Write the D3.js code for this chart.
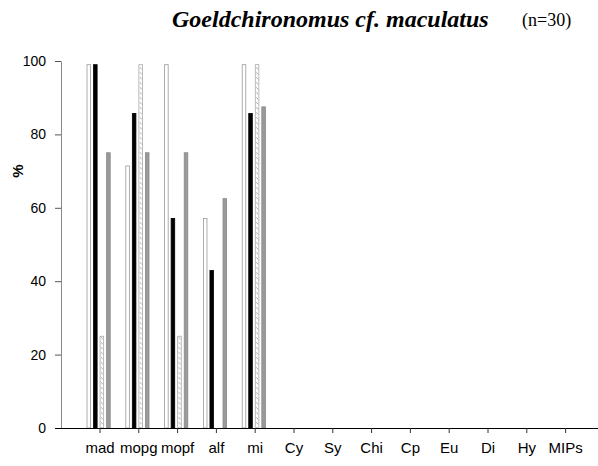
<!DOCTYPE html>
<html>
<head>
<meta charset="utf-8">
<script src="https://cdn.jsdelivr.net/npm/d3@7"></script>
<style>
  body { margin: 0; background: #fff; }
  svg { display: block; }
</style>
</head>
<body>
<div id="chart"></div>
<script>
// data
const categories = ['mad', 'mopg', 'mopf', 'alf', 'mi', 'Cy', 'Sy', 'Chi', 'Cp', 'Eu', 'Di', 'Hy', 'MIPs'];
const series = ['s1', 's2', 's3', 's4'];
const s1 = [99, 71.4, 99, 57.1, 99, 0, 0, 0, 0, 0, 0, 0, 0];
const s2 = [99, 85.7, 57.1, 42.9, 85.7, 0, 0, 0, 0, 0, 0, 0, 0];
const s3 = [25, 99, 25, 0, 99, 0, 0, 0, 0, 0, 0, 0, 0];
const s4 = [75, 75, 75, 62.5, 87.5, 0, 0, 0, 0, 0, 0, 0, 0];
const yTicks = [0, 20, 40, 60, 80, 100];

const width = 598;
const height = 466;

const svg = d3.select('#chart').append('svg')
  .attr('width', width)
  .attr('height', height);

const x = d3.scaleBand().domain(categories).range([80.6, 585]).padding(0);
const xs = d3.scaleBand().domain(series).range([-13, 11]).paddingInner(0.33);
const y = d3.scaleLinear().domain([0, 100]).range([428, 61]);

// hatch pattern for the third series, one dash per row
const bw = xs.bandwidth() - 0.8;
const defs = svg.append('defs');
const pat = defs.append('pattern')
  .attr('id', 'hatch')
  .attr('patternUnits', 'userSpaceOnUse')
  .attr('x', xs('s3'))
  .attr('y', 61)
  .attr('width', bw)
  .attr('height', 5);
pat.append('rect').attr('width', bw).attr('height', 5).attr('fill', '#fff');
pat.append('line')
  .attr('x1', 0.8).attr('y1', 1.2).attr('x2', bw - 0.6).attr('y2', 3.4)
  .attr('stroke', '#888').attr('stroke-width', 0.7);

const rows = categories.map((c, i) => ({ cat: c, vals: [s1[i], s2[i], s3[i], s4[i]] }));
const fills = ['#fff', '#000', 'url(#hatch)', '#9a9a9a'];
const strokes = ['#999', '#000', '#aaa', '#888'];

// bars
const g = svg.selectAll('.grp')
  .data(rows)
  .enter().append('g')
  .attr('class', 'grp')
  .attr('transform', d => `translate(${x(d.cat) + x.bandwidth() / 2},0)`);

g.selectAll('rect')
  .data(d => d.vals.map((v, j) => ({ v, s: series[j], j })).filter(e => e.v > 0))
  .enter().append('rect')
  .attr('x', e => xs(e.s))
  .attr('width', bw)
  .attr('y', e => y(e.v))
  .attr('height', e => y(0) - y(e.v))
  .attr('fill', e => fills[e.j])
  .attr('stroke', e => strokes[e.j])
  .attr('stroke-width', 0.8);

// y axis
const yAxis = svg.append('g')
  .attr('transform', 'translate(61,0)')
  .call(d3.axisLeft(y).tickValues(yTicks).tickSize(6).tickSizeOuter(0));
yAxis.select('.domain').attr('stroke', '#888');
yAxis.selectAll('.tick line').attr('stroke', '#555');
yAxis.selectAll('.tick text')
  .attr('x', -15)
  .style('font', '14px "Liberation Sans", Arial, sans-serif')
  .attr('fill', '#000');

// x axis
const xAxis = svg.append('g')
  .attr('transform', 'translate(0,428)')
  .call(d3.axisBottom(x).tickSize(5).tickSizeOuter(0));
xAxis.select('.domain').attr('d', `M55,0.5H${width}`).attr('stroke', '#000');
xAxis.selectAll('.tick line').attr('stroke', '#333');
xAxis.selectAll('.tick text')
  .attr('y', 14)
  .style('font', '15px "Liberation Sans", Arial, sans-serif')
  .attr('fill', '#000');

// y label
svg.append('text')
  .attr('transform', 'translate(23,171) rotate(-90)')
  .attr('text-anchor', 'middle')
  .style('font', 'bold 15px "Liberation Sans", Arial, sans-serif')
  .text('%');

// title
svg.append('text')
  .attr('x', 172)
  .attr('y', 27)
  .style('font', 'italic bold 24px "Liberation Serif", "Times New Roman", serif')
  .text('Goeldchironomus cf. maculatus');

svg.append('text')
  .attr('x', 522)
  .attr('y', 26)
  .style('font', '18px "Liberation Serif", "Times New Roman", serif')
  .text('(n=30)');
</script>
</body>
</html>
